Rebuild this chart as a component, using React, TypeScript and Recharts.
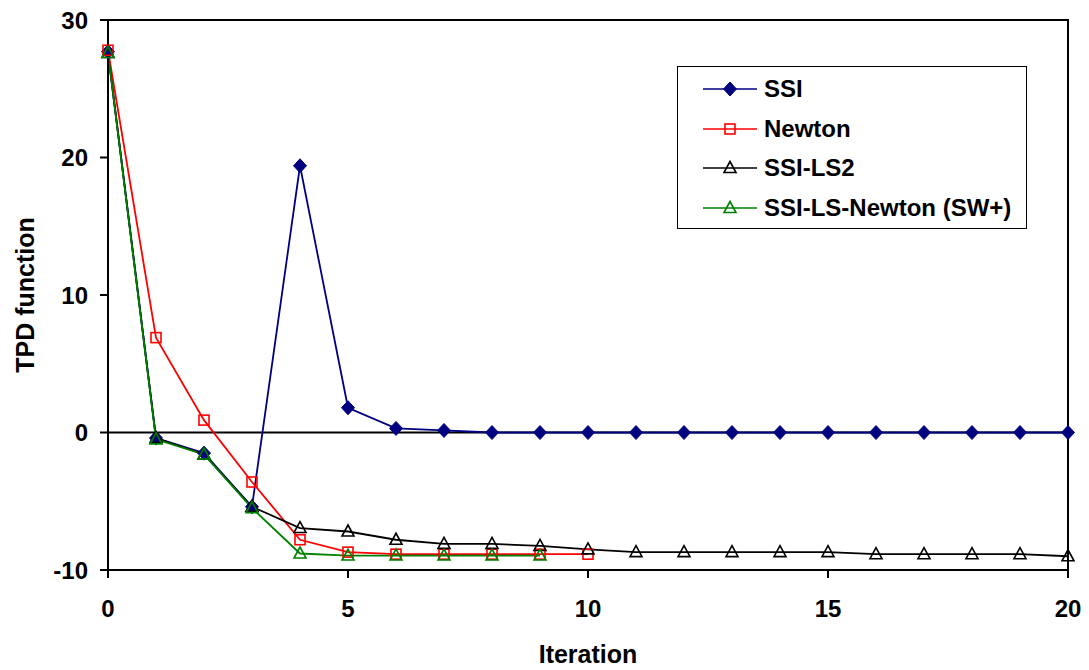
import React from "react"
import { LineChart, Line, XAxis, YAxis, ReferenceLine, ReferenceArea, Legend } from "recharts"

const iterations = [0, 1, 2, 3, 4, 5, 6, 7, 8, 9, 10, 11, 12, 13, 14, 15, 16, 17, 18, 19, 20]
const ssi = [27.7, -0.4, -1.5, -5.4, 19.4, 1.8, 0.3, 0.15, 0, 0, 0, 0, 0, 0, 0, 0, 0, 0, 0, 0, 0]
const newton = [27.8, 6.9, 0.9, -3.6, -7.8, -8.7, -8.85, -8.85, -8.85, -8.85, -8.85]
const ssiLs2 = [27.6, -0.4, -1.6, -5.4, -6.95, -7.2, -7.8, -8.1, -8.1, -8.25, -8.5, -8.7, -8.7, -8.7, -8.7, -8.7, -8.85, -8.85, -8.85, -8.85, -9.0]
const ssiLsNewton = [27.6, -0.5, -1.6, -5.5, -8.8, -8.95, -8.95, -8.95, -8.95, -8.95]
const xTicks = [0, 5, 10, 15, 20]
const yTicks = [-10, 0, 10, 20, 30]

const FONT = '"Liberation Sans", Arial, sans-serif'

const series = [
  { key: "ssi", name: "SSI", color: "#000080", marker: "diamond" },
  { key: "newton", name: "Newton", color: "#FF0000", marker: "square" },
  { key: "ls2", name: "SSI-LS2", color: "#000000", marker: "triangle" },
  { key: "lsn", name: "SSI-LS-Newton (SW+)", color: "#008000", marker: "triangle" },
]

const data = iterations.map((x, i) => ({
  x,
  ssi: ssi[i],
  newton: newton[i],
  ls2: ssiLs2[i],
  lsn: ssiLsNewton[i],
}))

function Marker({ cx, cy, type, color }: { cx: number; cy: number; type: string; color: string }) {
  if (cx == null || cy == null || isNaN(cx) || isNaN(cy)) return null
  if (type === "diamond") {
    return <path d={`M${cx},${cy - 7}L${cx + 6.5},${cy}L${cx},${cy + 7}L${cx - 6.5},${cy}Z`} fill={color} stroke={color} strokeWidth={1} />
  }
  if (type === "square") {
    return <rect x={cx - 5} y={cy - 5} width={10} height={10} fill="none" stroke={color} strokeWidth={1.6} />
  }
  return <path d={`M${cx},${cy - 6.5}L${cx + 6},${cy + 4.5}L${cx - 6},${cy + 4.5}Z`} fill="none" stroke={color} strokeWidth={1.6} />
}

function makeDot(type: string, color: string) {
  return (props: any) => (
    <Marker key={`${type}-${color}-${props.index}`} cx={props.cx} cy={props.cy} type={type} color={color} />
  )
}

function LegendBox() {
  return (
    <div
      style={{
        width: 348,
        height: 159,
        border: "1.5px solid #000",
        background: "#fff",
        paddingTop: 2,
        boxSizing: "content-box",
        fontFamily: FONT,
      }}
    >
      {series.map((s) => (
        <div key={s.key} style={{ display: "flex", alignItems: "center", height: 39.7, paddingLeft: 25 }}>
          <svg width={54} height={20} style={{ display: "block" }}>
            <line x1={0} y1={10} x2={54} y2={10} stroke={s.color} strokeWidth={1.6} />
            <Marker cx={27} cy={10} type={s.marker} color={s.color} />
          </svg>
          <span style={{ marginLeft: 7, fontSize: 24, fontWeight: "bold", color: "#000" }}>{s.name}</span>
        </div>
      ))}
    </div>
  )
}

export default function App() {
  const tickStyle = { fill: "#000", fontSize: 24, fontWeight: "bold", fontFamily: FONT }
  return (
    <div style={{ position: "absolute", left: 0, top: 0, background: "#fff" }}>
      <LineChart width={1089} height={670} data={data} margin={{ top: 20, right: 21, left: 0, bottom: 0 }}>
        <XAxis
          dataKey="x"
          type="number"
          domain={[0, 20]}
          ticks={xTicks}
          height={100}
          tickSize={8}
          tickMargin={22}
          tick={tickStyle}
          stroke="#000"
          strokeWidth={2}
          label={{
            value: "Iteration",
            position: "insideBottom",
            offset: 7,
            style: { fill: "#000", fontSize: 25, fontWeight: "bold", fontFamily: FONT },
          }}
        />
        <YAxis
          type="number"
          domain={[-10, 30]}
          ticks={yTicks}
          width={108}
          tickSize={8}
          tickMargin={12}
          tick={tickStyle}
          stroke="#000"
          strokeWidth={2}
          allowDataOverflow
          label={{
            value: "TPD function",
            angle: -90,
            position: "insideLeft",
            offset: 25,
            style: { fill: "#000", fontSize: 25, fontWeight: "bold", fontFamily: FONT, textAnchor: "middle" },
          }}
        />
        <ReferenceArea x1={0} x2={20} y1={-10} y2={30} fill="none" stroke="#000" strokeWidth={2} />
        <ReferenceLine y={0} stroke="#000" strokeWidth={2} />
        <Legend
          layout="vertical"
          align="center"
          verticalAlign="middle"
          content={() => <LegendBox />}
          wrapperStyle={{ position: "absolute", left: 677, top: 66, width: 352 }}
        />
        {series.map((s) => (
          <Line
            key={s.key}
            dataKey={s.key}
            name={s.name}
            stroke={s.color}
            strokeWidth={1.8}
            dot={makeDot(s.marker, s.color)}
            activeDot={false}
            isAnimationActive={false}
          />
        ))}
      </LineChart>
    </div>
  )
}
